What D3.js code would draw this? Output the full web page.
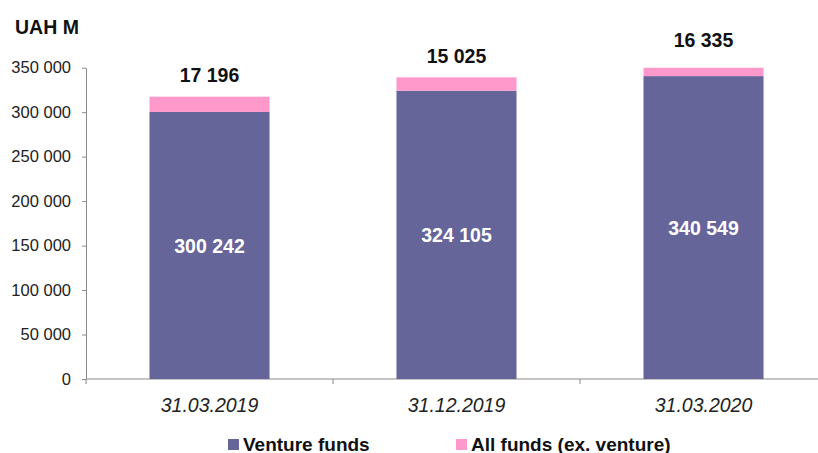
<!DOCTYPE html>
<html>
<head>
<meta charset="utf-8">
<script src="https://cdn.jsdelivr.net/npm/d3@7"></script>
<style>
  body { margin: 0; background: #fff; }
  text { font-family: "Liberation Sans", Arial, sans-serif; }
</style>
</head>
<body>
<script>
// data
var categories = ["31.03.2019", "31.12.2019", "31.03.2020"];
var venture = [300242, 324105, 340549];
var allFunds = [17196, 15025, 16335];
var yTicks = [0, 50000, 100000, 150000, 200000, 250000, 300000, 350000];
var seriesNames = ["Venture funds", "All funds (ex. venture)"];
var colors = ["#65659a", "#ff99cc"];

var width = 818, height = 453;
var plotLeft = 86, plotRight = 827, plotTop = 67.7, plotBottom = 379;

var svg = d3.select("body").append("svg")
    .attr("width", width)
    .attr("height", height);

var fmt = function(d) { return d3.format(",")(d).replace(/,/g, " "); };

var x = d3.scaleBand()
    .domain(categories)
    .range([plotLeft, plotRight])
    .paddingInner(0.514)
    .paddingOuter(0.257);

var y = d3.scaleLinear()
    .domain([0, 350000])
    .range([plotBottom, plotTop]);

// bars are cut at the axis maximum, like the original
svg.append("defs").append("clipPath").attr("id", "plotclip")
    .append("rect")
    .attr("x", plotLeft).attr("y", y(350000))
    .attr("width", width - plotLeft).attr("height", y(0) - y(350000));

// title
svg.append("text")
    .attr("x", 15).attr("y", 34)
    .attr("font-size", 19.5).attr("font-weight", "bold")
    .attr("fill", "#111")
    .text("UAH M");

// y axis
var yAxis = svg.append("g")
    .attr("transform", "translate(" + plotLeft + ",0)")
    .call(d3.axisLeft(y).tickValues(yTicks).tickFormat(fmt).tickSize(4).tickSizeOuter(0).tickPadding(11));
yAxis.select(".domain").attr("stroke", "#8a8a8a");
yAxis.selectAll(".tick line").attr("stroke", "#8a8a8a");
yAxis.selectAll(".tick text")
    .attr("font-size", 16.5).attr("fill", "#222")
    .attr("font-family", "'Liberation Sans', Arial, sans-serif");

// x axis line and boundary ticks
svg.append("line")
    .attr("x1", plotLeft).attr("x2", width)
    .attr("y1", plotBottom).attr("y2", plotBottom)
    .attr("stroke", "#8a8a8a");
svg.selectAll(".xtick")
    .data(d3.range(categories.length))
    .enter().append("line")
    .attr("x1", function(i) { return plotLeft + x.step() * i; })
    .attr("x2", function(i) { return plotLeft + x.step() * i; })
    .attr("y1", plotBottom).attr("y2", plotBottom + 5)
    .attr("stroke", "#8a8a8a");

// category labels
svg.selectAll(".cat")
    .data(categories)
    .enter().append("text")
    .attr("x", function(d) { return x(d) + x.bandwidth() / 2; })
    .attr("y", 411.5)
    .attr("text-anchor", "middle")
    .attr("font-size", 19.5).attr("font-style", "italic")
    .attr("fill", "#222")
    .text(function(d) { return d; });

// bars
var rows = categories.map(function(c, i) {
    return { cat: c, v: venture[i], a: allFunds[i] };
});

var g = svg.selectAll(".bar")
    .data(rows)
    .enter().append("g");

var bars = g.append("g").attr("clip-path", "url(#plotclip)");

bars.append("rect")
    .attr("x", function(d) { return x(d.cat); })
    .attr("width", x.bandwidth())
    .attr("y", function(d) { return y(d.v); })
    .attr("height", function(d) { return y(0) - y(d.v); })
    .attr("fill", colors[0]);

bars.append("rect")
    .attr("x", function(d) { return x(d.cat); })
    .attr("width", x.bandwidth())
    .attr("y", function(d) { return y(d.v + d.a); })
    .attr("height", function(d) { return y(d.v) - y(d.v + d.a); })
    .attr("fill", colors[1]);

// labels inside bars
g.append("text")
    .attr("x", function(d) { return x(d.cat) + x.bandwidth() / 2; })
    .attr("y", function(d) { return (y(0) + y(d.v)) / 2 + 7.5; })
    .attr("text-anchor", "middle")
    .attr("font-size", 19.5).attr("font-weight", "bold")
    .attr("fill", "#fff")
    .text(function(d) { return fmt(d.v); });

// labels above bars
g.append("text")
    .attr("x", function(d) { return x(d.cat) + x.bandwidth() / 2; })
    .attr("y", function(d) { return y(d.v + d.a) - 14.5; })
    .attr("text-anchor", "middle")
    .attr("font-size", 19.5).attr("font-weight", "bold")
    .attr("fill", "#111")
    .text(function(d) { return fmt(d.a); });

// legend
var legendX = [228, 456];
var lg = svg.selectAll(".legend")
    .data(seriesNames)
    .enter().append("g")
    .attr("transform", function(d, i) { return "translate(" + legendX[i] + ",439)"; });
lg.append("rect")
    .attr("width", 11).attr("height", 11)
    .attr("fill", function(d, i) { return colors[i]; });
lg.append("text")
    .attr("x", 15).attr("y", 11.5)
    .attr("font-size", 19).attr("font-weight", "bold")
    .attr("fill", "#111")
    .text(function(d) { return d; });
</script>
</body>
</html>
